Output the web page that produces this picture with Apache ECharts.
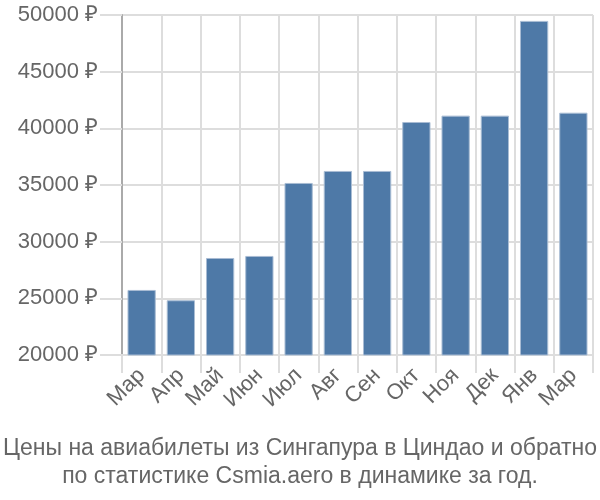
<!DOCTYPE html>
<html><head><meta charset="utf-8">
<script src="https://cdn.jsdelivr.net/npm/echarts@6/dist/echarts.min.js"></script>
<style>html,body{margin:0;padding:0;background:#fff}#c{width:600px;height:500px}</style>
</head><body><div id="c"></div>
<script>
var categories = ["Мар","Апр","Май","Июн","Июл","Авг","Сен","Окт","Ноя","Дек","Янв","Мар"];
var prices = [25740, 24830, 28560, 28740, 35180, 36240, 36240, 40560, 41120, 41120, 49480, 41380];
var titleLines = ["Цены на авиабилеты из Сингапура в Циндао и обратно", "по статистике Csmia.aero в динамике за год."];

var chart = echarts.init(document.getElementById('c'));
chart.setOption({
  animation: false,
  textStyle: {fontFamily: 'Liberation Sans, Arial, sans-serif'},
  title: {
    text: titleLines.join('\n'),
    left: 'center', top: 430,
    textStyle: {color: '#666', fontSize: 23, fontWeight: 'normal', lineHeight: 28, fontFamily: 'Liberation Sans, Arial, sans-serif'}
  },
  grid: {left: 122, right: 7, top: 15, bottom: 145},
  xAxis: {
    type: 'category', data: categories,
    axisLine: {show: true, lineStyle: {color: '#ddd', width: 2}},
    axisTick: {show: true, length: 18, lineStyle: {color: '#ddd', width: 2}},
    splitLine: {show: true, lineStyle: {color: '#ddd', width: 2}},
    axisLabel: {rotate: 45, color: '#666', fontSize: 22, margin: 17, interval: 0}
  },
  yAxis: {
    type: 'value', min: 20000, max: 50000, interval: 5000,
    axisLine: {show: true, lineStyle: {color: '#aaa', width: 2}},
    axisTick: {show: true, length: 22, lineStyle: {color: '#ddd', width: 2}},
    splitLine: {show: true, lineStyle: {color: '#ddd', width: 2}},
    axisLabel: {color: '#666', fontSize: 22, margin: 24, formatter: function(v){return v + ' ₽';}}
  },
  series: [{
    type: 'bar', data: prices, barWidth: '72%',
    itemStyle: {color: '#4e79a7', borderColor: '#a9bdd4', borderWidth: 1}
  }]
});
</script></body></html>
